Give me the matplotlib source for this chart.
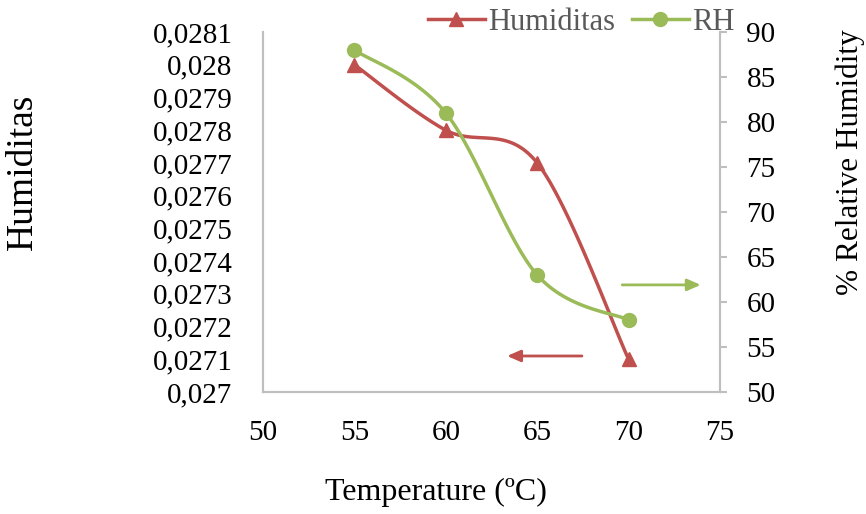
import matplotlib
matplotlib.use("Agg")
import matplotlib.pyplot as plt
import numpy as np
from matplotlib.ticker import FuncFormatter
from matplotlib.lines import Line2D

temps = [55, 60, 65, 70]
humiditas = [0.0280, 0.0278, 0.0277, 0.0271]
rh = [88, 81, 63, 58]
x_ticks = [50, 55, 60, 65, 70, 75]
left_ticks = [0.0270 + 0.0001 * i for i in range(12)]
right_ticks = [50, 55, 60, 65, 70, 75, 80, 85, 90]

RED = "#C0504D"
GREEN = "#9BBB59"
GRAY = "#BFBFBF"

plt.rcParams['font.family'] = ['Liberation Serif', 'DejaVu Serif']


def excel_smooth(ax, xs, ys, n=40):
    # Bezier smoothing (Excel-style) in axes-fraction space
    tr = ax.transData + ax.transAxes.inverted()
    pts = tr.transform(np.column_stack([xs, ys]))
    P = np.vstack([pts[0], pts, pts[-1]])
    out = []
    for i in range(1, len(P) - 2):
        p0, p1, p2, p3 = P[i - 1], P[i], P[i + 1], P[i + 2]
        c1 = p1 + (p2 - p0) / 6
        c2 = p2 - (p3 - p1) / 6
        t = np.linspace(0, 1, n)[:, None]
        seg = ((1 - t) ** 3) * p1 + 3 * ((1 - t) ** 2) * t * c1 + 3 * (1 - t) * t ** 2 * c2 + t ** 3 * p2
        out.append(seg if i == 1 else seg[1:])
    return np.vstack(out)


fig = plt.figure(figsize=(8.66, 5.14), dpi=100)
ax = fig.add_axes([0.3037, 0.2374, 0.5277, 0.7003])
ax2 = ax.twinx()

ax.set_xlim(50, 75)
ax.set_ylim(0.0270, 0.0281)
ax2.set_ylim(50, 90)
ax.set_xticks(x_ticks)
ax.set_yticks(left_ticks)
ax2.set_yticks(right_ticks)

fmt = FuncFormatter(lambda v, p: ("%g" % round(v, 4)).replace(".", ","))
ax.yaxis.set_major_formatter(fmt)

for a in (ax, ax2):
    a.tick_params(length=0, labelsize=21, colors="black")
    a.spines['top'].set_visible(False)
    for s in ('left', 'right', 'bottom'):
        a.spines[s].set_color(GRAY)
        a.spines[s].set_linewidth(1.5)
ax.tick_params(axis='x', pad=20)
ax.tick_params(axis='y', pad=22)
ax2.tick_params(axis='y', length=5, width=1.5, color=GRAY, pad=14)

c1 = excel_smooth(ax, temps, humiditas)
ax.plot(c1[:, 0], c1[:, 1], color=RED, lw=2.5, transform=ax.transAxes, zorder=3)
ax.plot(temps, humiditas, ls='none', marker='^', ms=10, color=RED, zorder=4)

c2 = excel_smooth(ax2, temps, rh)
ax2.plot(c2[:, 0], c2[:, 1], color=GREEN, lw=2.5, transform=ax2.transAxes, zorder=3)
ax2.plot(temps, rh, ls='none', marker='o', ms=10, color=GREEN, zorder=4)

# Arrows
ax.annotate("", xy=(63.2, 0.02711), xytext=(67.6, 0.02711),
            arrowprops=dict(arrowstyle="-|>,head_length=0.8,head_width=0.35", color=RED, lw=2))
ax2.annotate("", xy=(74.1, 61.9), xytext=(69.5, 61.9),
             arrowprops=dict(arrowstyle="-|>,head_length=0.8,head_width=0.35", color=GREEN, lw=2))

# Legend
handles = [Line2D([], [], color=RED, lw=2.5, marker='^', ms=10),
           Line2D([], [], color=GREEN, lw=2.5, marker='o', ms=10)]
leg = fig.legend(handles, ["Humiditas", "RH"], loc='center', bbox_to_anchor=(0.6715, 0.957),
                 ncol=2, frameon=False, fontsize=22, handlelength=1.85, columnspacing=0.55,
                 handletextpad=0.12, labelcolor="#595959", borderpad=0, borderaxespad=0)

fig.text(0.026, 0.665, "Humiditas", rotation=90, ha='center', va='center', fontsize=27)
fig.text(0.982, 0.685, "% Relative Humidity", rotation=90, ha='center', va='center', fontsize=22.5)
fig.text(0.503, 0.041, "Temperature (ºC)", ha='center', va='center', fontsize=23)

fig.savefig("out.png", dpi=100)
